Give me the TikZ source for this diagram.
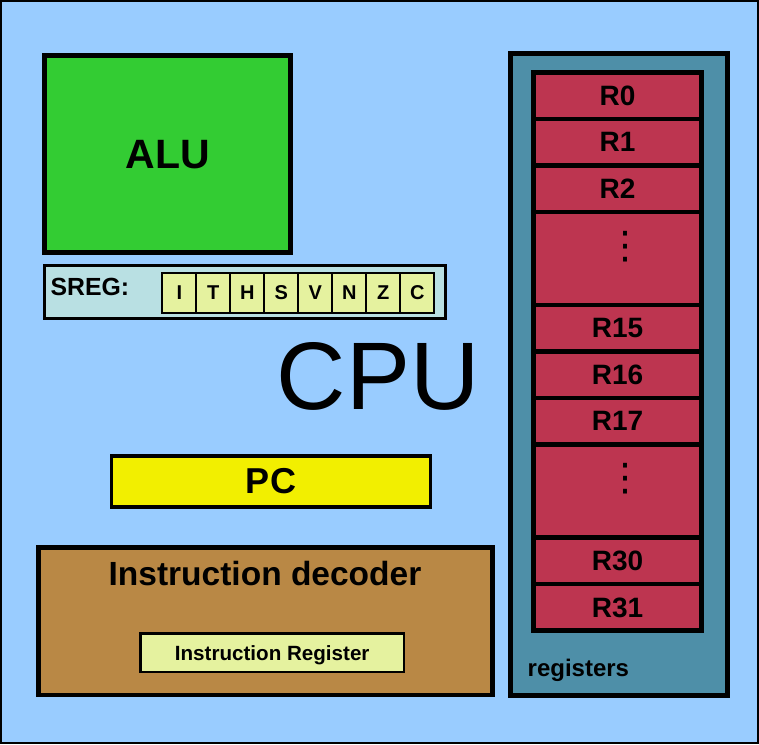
\documentclass[tikz,border=0pt]{standalone}
\usepackage{fontspec}
\setmainfont{Liberation Sans}
\newfontfamily\dotsfont{DejaVu Sans}
\usetikzlibrary{positioning,calc}

\definecolor{cpublue}{HTML}{99CCFF}
\definecolor{alugreen}{HTML}{33CC33}
\definecolor{sregcyan}{HTML}{B9E0E3}
\definecolor{flagyellow}{HTML}{E5F29F}
\definecolor{pcyellow}{HTML}{F2EF00}
\definecolor{decbrown}{HTML}{B98845}
\definecolor{regteal}{HTML}{4E8FA8}
\definecolor{regred}{HTML}{BD3550}

\begin{document}
\begin{tikzpicture}[x=1pt, y=-1pt,
    box/.style={draw, outer sep=0pt, inner sep=0pt, text depth=0pt},
    txt/.style={inner sep=0pt},
    flag/.style={box, fill=flagyellow, line width=1.8pt, minimum width=34pt, minimum height=39.7pt, font=\bfseries\fontsize{20}{24}\selectfont},
    reg/.style={box, fill=regred, line width=4.6pt, minimum width=168pt, minimum height=46.5pt, font=\bfseries\fontsize{28}{34}\selectfont},
    gap/.style={reg, minimum height=93pt},
    dots/.style={txt, anchor=north, font=\dotsfont\fontsize{38}{40}\selectfont},
  ]
  \useasboundingbox (0,0) rectangle (759,744);
  \node[box, fill=cpublue, line width=2pt, minimum width=757pt, minimum height=742pt] (cpu) at (379.5,372) {};
  \node[txt, anchor=base, font=\fontsize{96}{110}\selectfont] (cpulabel) at (378.3,409.3) {CPU};

  % ALU and status register
  \node[box, fill=alugreen, line width=4.8pt, minimum width=245.7pt, minimum height=196.7pt, font=\bfseries\fontsize{41}{48}\selectfont] (alu) at (167.6,154.1) {ALU};
  \node[box, fill=sregcyan, line width=2.3pt, minimum width=401pt, minimum height=53pt] (sreg) at (245,292) {};
  \node[txt, anchor=base west, font=\bfseries\fontsize{24.8}{28}\selectfont] (sreglabel) at (50.5,295.7) {SREG:};
  \node[flag] (fI) at (179.3,292.8) {I};
  \node[flag, right=0pt of fI] (fT) {T};
  \node[flag, right=0pt of fT] (fH) {H};
  \node[flag, right=0pt of fH] (fS) {S};
  \node[flag, right=0pt of fS] (fV) {V};
  \node[flag, right=0pt of fV] (fN) {N};
  \node[flag, right=0pt of fN] (fZ) {Z};
  \node[flag, right=0pt of fZ] (fC) {C};

  % program counter and decoder
  \node[box, fill=pcyellow, line width=3.5pt, minimum width=318.6pt, minimum height=51.3pt, font=\bfseries\fontsize{36}{42}\selectfont] (pc) at (271,481.4) {PC};
  \node[box, fill=decbrown, line width=4.8pt, minimum width=454.3pt, minimum height=147.5pt] (dec) at (265.7,621.3) {};
  \node[txt, anchor=base, font=\bfseries\fontsize{33.5}{40}\selectfont] (dectitle) at (265,585.7) {Instruction decoder};
  \node[box, fill=flagyellow, line width=2.4pt, minimum width=263.3pt, minimum height=38.5pt, font=\bfseries\fontsize{20.6}{24}\selectfont] (ir) at (272.2,652.8) {Instruction Register};

  % register file
  \node[box, fill=regteal, line width=4.7pt, minimum width=217.5pt, minimum height=642pt] (regs) at (619,374.5) {};
  \node[txt, anchor=base west, font=\bfseries\fontsize{24}{28}\selectfont] (regslabel) at (527.5,676) {registers};
  \node[reg] (r0) at (617.5,95.75) {R0};
  \node[reg, below=0pt of r0] (r1) {R1};
  \node[reg, below=0pt of r1] (r2) {R2};
  \node[gap, below=0pt of r2] (ga) {};
  \node[reg, below=0pt of ga] (r15) {R15};
  \node[reg, below=0pt of r15] (r16) {R16};
  \node[reg, below=0pt of r16] (r17) {R17};
  \node[gap, below=0pt of r17] (gb) {};
  \node[reg, below=0pt of gb] (r30) {R30};
  \node[reg, below=0pt of r30] (r31) {R31};
  \node[dots] (dotsa) at ($(ga.north)+(8,18.7)$) {⋮};
  \node[dots] (dotsb) at ($(gb.north)+(8,18.7)$) {⋮};
\end{tikzpicture}
\end{document}
